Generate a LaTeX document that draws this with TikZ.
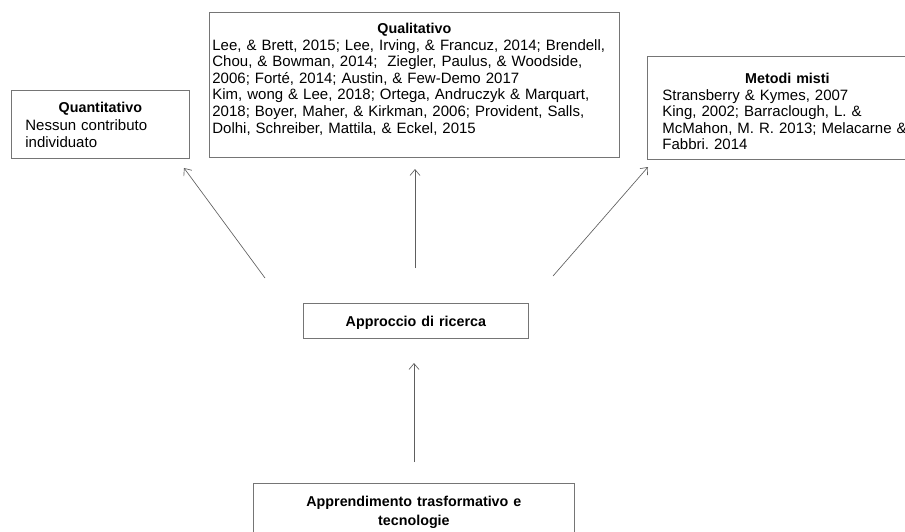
\documentclass[tikz,border=0pt]{standalone}
\usepackage{fontspec}
\setmainfont{Liberation Sans}
\usetikzlibrary{arrows.meta}
\definecolor{grigiobordo}{HTML}{757575}
\definecolor{grigiofreccia}{HTML}{5E5E5E}
\newcommand{\titolo}{\fontsize{14.3}{16.6}\selectfont\bfseries}
\frenchspacing

\begin{document}
\begin{tikzpicture}[x=1pt, y=-1pt,
    casella/.style={draw=grigiobordo, line width=0.8pt, anchor=north west, inner ysep=0pt,
        font=\fontsize{15}{16.6}\selectfont},
    freccia/.style={draw=grigiofreccia, line width=0.65pt, -{Straight Barb[length=6pt,width=10pt]}}]

    \useasboundingbox (0,0) rectangle (905,531);
    \clip (0,0) rectangle (905,531);

    % caselle in alto
    \node[casella, text width=150pt, inner xsep=14pt] (quantitativo) at (11,90)
        {{\centering\titolo\rule{0pt}{22pt}Quantitativo\par}
         \fontsize{15}{17.6}\selectfont\raggedright
         Nessun contributo\\
         individuato\rule[-10.8pt]{0pt}{10.8pt}\par};

    \node[casella, text width=404pt, inner xsep=3pt] (qualitativo) at (209,12)
        {{\centering\titolo\rule{0pt}{21pt}Qualitativo\par}
         \raggedright
         Lee, \& Brett, 2015; Lee, Irving, \& Francuz, 2014; Brendell,\\
         Chou, \& Bowman, 2014; \ Ziegler, Paulus, \& Woodside,\\
         2006; Forté, 2014; Austin, \& Few-Demo 2017\\
         Kim, wong \& Lee, 2018; Ortega, Andruczyk \& Marquart,\\
         2018; Boyer, Maher, \& Kirkman, 2006; Provident, Salls,\\
         Dolhi, Schreiber, Mattila, \& Eckel, 2015\rule[-24.4pt]{0pt}{24.4pt}\par};

    \node[casella, text width=250pt, inner xsep=15pt] (misti) at (647,56)
        {{\centering\titolo\rule{0pt}{27pt}Metodi misti\par}
         \raggedright
         Stransberry \& Kymes, 2007\\
         King, 2002; Barraclough, L. \&\\
         McMahon, M. R. 2013; Melacarne \&\\
         Fabbri. 2014\rule[-9.6pt]{0pt}{9.6pt}\par};

    % centro e base
    \node[casella, text width=215pt, inner xsep=5pt] (ricerca) at (303,303)
        {\centering\titolo\rule[-11.6pt]{0pt}{35pt}Approccio di ricerca\par};

    \node[casella, text width=311pt, inner xsep=5pt] (apprendimento) at (253,483)
        {\centering\fontsize{14.3}{19.5}\selectfont\bfseries
         \rule{0pt}{23pt}Apprendimento trasformativo e\\
         tecnologie\rule[-20pt]{0pt}{20pt}\par};

    \coordinate (da-sx) at (265,278);
    \coordinate (a-sx) at (184,168);
    \coordinate (da-su) at (415,268);
    \coordinate (a-su) at (415,169);
    \coordinate (da-dx) at (553,276);
    \coordinate (a-dx) at (648,167);
    \coordinate (da-giu) at (414,462);
    \coordinate (a-giu) at (414,363);

    \foreach \p/\q in {da-sx/a-sx, da-su/a-su, da-dx/a-dx, da-giu/a-giu}
        \draw[freccia] (\p) -- (\q);

\end{tikzpicture}
\end{document}
